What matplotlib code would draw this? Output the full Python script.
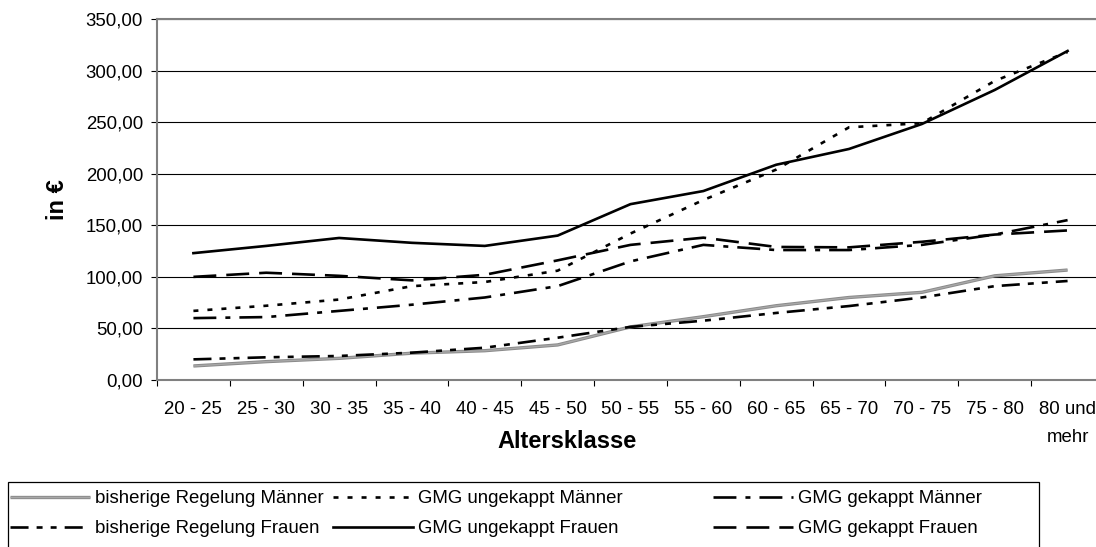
import matplotlib
matplotlib.use("Agg")
import matplotlib.pyplot as plt
import numpy as np
from matplotlib.ticker import FuncFormatter, FixedLocator
from matplotlib.patches import Rectangle
import matplotlib.patheffects as pe

plt.rcParams['font.family'] = ['Liberation Sans', 'DejaVu Sans']
plt.rcParams['lines.scale_dashes'] = False

categories = ["20 - 25", "25 - 30", "30 - 35", "35 - 40", "40 - 45", "45 - 50",
              "50 - 55", "55 - 60", "60 - 65", "65 - 70", "70 - 75", "75 - 80",
              "80 und\nmehr"]

bisherige_maenner = [13.6, 17.8, 21.0, 26.0, 28.4, 34.0, 51.5, 61.4, 72.0, 80.0, 85.0, 101.0, 106.6]
bisherige_frauen = [20.0, 22.0, 23.3, 26.5, 31.3, 41.0, 51.5, 57.5, 65.0, 71.7, 80.0, 91.0, 96.0]
gmg_ungekappt_maenner = [67.0, 72.0, 78.0, 91.0, 95.0, 106.0, 142.0, 174.5, 204.0, 245.0, 249.0, 290.0, 318.0]
gmg_ungekappt_frauen = [123.0, 130.0, 137.7, 133.0, 130.0, 140.0, 170.5, 183.2, 208.7, 224.0, 248.2, 281.2, 319.0]
gmg_gekappt_maenner = [60.0, 61.0, 67.0, 73.0, 80.0, 91.0, 115.0, 131.0, 126.0, 126.0, 131.0, 141.0, 155.0]
gmg_gekappt_frauen = [100.0, 104.0, 101.0, 96.6, 102.0, 116.0, 131.0, 138.0, 129.0, 128.6, 134.0, 141.0, 145.0]

y_ticks = [0, 50, 100, 150, 200, 250, 300, 350]

W, H = 1096, 547
fig = plt.figure(figsize=(W / 100, H / 100), dpi=100)

left, right, top, bottom = 157, 1104, 19, 380
ax = fig.add_axes([left / W, 1 - bottom / H, (right - left) / W, (bottom - top) / H])

x = np.arange(len(categories))
lw = 1.9

l_bm, = ax.plot(x, bisherige_maenner, color='#a8a8a8', lw=1.0, solid_capstyle='butt',
                label='bisherige Regelung Männer', zorder=3,
                path_effects=[pe.Stroke(linewidth=2.4, foreground='#8a8a8a'), pe.Normal()])
l_um, = ax.plot(x, gmg_ungekappt_maenner, color='black', lw=lw, label='GMG ungekappt Männer', zorder=4)
l_um.set_dashes((3.6, 6.5))
l_gm, = ax.plot(x, gmg_gekappt_maenner, color='black', lw=lw, label='GMG gekappt Männer', zorder=4)
l_gm.set_dashes((16.5, 6.5, 3.6, 6.5))
l_bf, = ax.plot(x, bisherige_frauen, color='black', lw=lw, label='bisherige Regelung Frauen', zorder=4)
l_bf.set_dashes((13, 5.8, 4.3, 5.8, 4.3, 5.8))
l_uf, = ax.plot(x, gmg_ungekappt_frauen, color='black', lw=lw, label='GMG ungekappt Frauen', zorder=4)
l_gf, = ax.plot(x, gmg_gekappt_frauen, color='black', lw=lw, label='GMG gekappt Frauen', zorder=4)
l_gf.set_dashes((16.5, 7.2))

ax.set_xlim(-0.5, len(categories) - 0.5)
ax.set_ylim(0, 350)

ax.set_yticks(y_ticks)
ax.yaxis.set_major_formatter(FuncFormatter(lambda v, p: f"{v:.2f}".replace('.', ',')))
ax.grid(axis='y', color='black', lw=0.8, zorder=1)
ax.set_axisbelow(True)

ax.xaxis.set_major_locator(FixedLocator(np.arange(-0.5, len(categories), 1.0)))
ax.xaxis.set_major_formatter(FuncFormatter(lambda v, p: ""))
ax.set_xticks(x, minor=True)
ax.set_xticklabels(categories, minor=True)
ax.tick_params(axis='x', which='minor', length=0, pad=15, labelsize=13.4)
ax.tick_params(axis='x', which='major', length=4.5, width=0.8, color='black', direction='out')
ax.tick_params(axis='y', which='major', length=4, width=0.8, color='black', direction='out',
               pad=6, labelsize=13.4)
for t in ax.get_xticklabels(minor=True):
    t.set_linespacing(1.85)
    t.set_verticalalignment('top')

for s in ax.spines.values():
    s.set_color('#808080')
    s.set_linewidth(1.5)

fig.text(58 / W, 1 - 200 / H, "in €", rotation=90, ha='center', va='center',
         fontsize=17, fontweight='bold')
fig.text(567 / W, 1 - 441 / H, "Altersklasse", ha='center', va='center',
         fontsize=17, fontweight='bold')

fig.add_artist(Rectangle((8 / W, -0.02), (1039 - 8) / W, (547 - 482) / H + 0.02,
                         transform=fig.transFigure, fill=False, edgecolor='black', lw=0.9))

cols = [([l_bm, l_bf], 10), ([l_um, l_uf], 333), ([l_gm, l_gf], 713)]
for handles, xpos in cols:
    fig.legend(handles=handles, labels=[h.get_label() for h in handles],
               loc='upper left', bbox_to_anchor=(xpos / W, 1 - 490 / H),
               frameon=False, borderpad=0, borderaxespad=0,
               handlelength=4.3, handletextpad=0.25, labelspacing=0.72,
               fontsize=13.4)

fig.savefig("out.png", dpi=100)
